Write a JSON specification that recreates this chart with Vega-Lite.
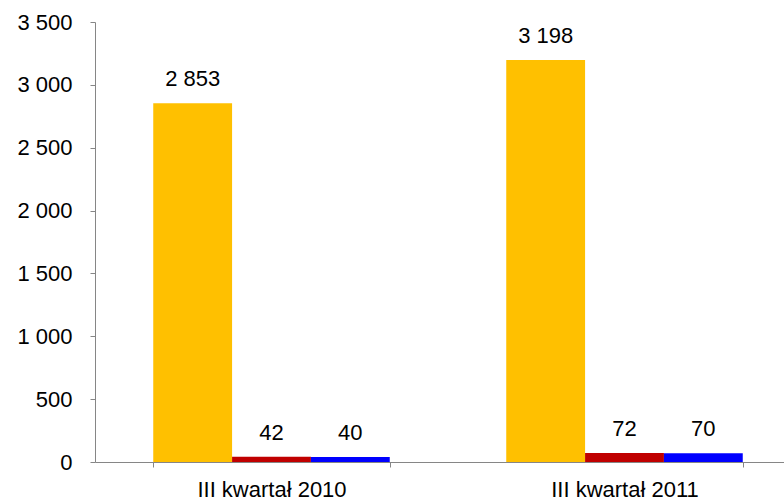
{
  "$schema": "https://vega.github.io/schema/vega-lite/v6.json",
  "autosize": {"type": "none"},
  "padding": {"left": 95, "top": 22, "right": 0, "bottom": 41},
  "width": 689,
  "height": 440,
  "background": "white",
  "config": {
    "locale": {"number": {"decimal": ",", "thousands": " ", "grouping": [3], "currency": ["", ""]}},
    "view": {"stroke": null},
    "font": "Liberation Sans"
  },
  "data": {
    "values": [
      {"okres": "III kwartał 2010", "seria": "a", "wartosc": 2853},
      {"okres": "III kwartał 2010", "seria": "b", "wartosc": 42},
      {"okres": "III kwartał 2010", "seria": "c", "wartosc": 40},
      {"okres": "III kwartał 2011", "seria": "a", "wartosc": 3198},
      {"okres": "III kwartał 2011", "seria": "b", "wartosc": 72},
      {"okres": "III kwartał 2011", "seria": "c", "wartosc": 70}
    ]
  },
  "encoding": {
    "x": {
      "field": "okres", "type": "nominal", "title": null,
      "scale": {"range": [0, 706], "paddingInner": 0.33, "paddingOuter": 0.165},
      "axis": {
        "labelAngle": 0, "labelFontSize": 22, "labelColor": "#000000", "labelFont": "Liberation Sans",
        "domainColor": "#868686", "tickColor": "#868686", "tickSize": 5, "tickBand": "extent",
        "labelPadding": 12
      }
    },
    "xOffset": {"field": "seria", "type": "nominal", "scale": {"paddingInner": 0, "paddingOuter": 0}},
    "y": {
      "field": "wartosc", "type": "quantitative", "title": null,
      "scale": {"domain": [0, 3500], "nice": false},
      "axis": {
        "values": [0, 500, 1000, 1500, 2000, 2500, 3000, 3500],
        "format": ",d", "grid": false, "labelFontSize": 22, "labelColor": "#000000", "labelFont": "Liberation Sans",
        "domainColor": "#868686", "tickColor": "#868686", "tickSize": 5, "labelPadding": 18
      }
    }
  },
  "layer": [
    {
      "mark": {"type": "bar", "clip": true},
      "encoding": {
        "color": {
          "field": "seria", "type": "nominal", "legend": null,
          "scale": {"domain": ["a", "b", "c"], "range": ["#FFC000", "#C00000", "#0000FF"]}
        }
      }
    },
    {
      "mark": {"type": "text", "baseline": "bottom", "dy": -12, "fontSize": 22, "font": "Liberation Sans", "color": "#000000"},
      "encoding": {
        "text": {"field": "wartosc", "type": "quantitative", "format": ",d"}
      }
    }
  ]
}
